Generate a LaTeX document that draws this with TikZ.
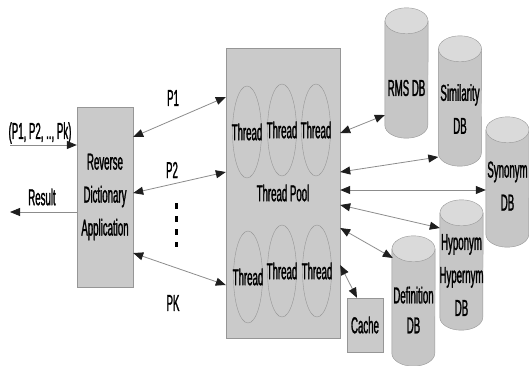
\documentclass[tikz,border=0pt]{standalone}
\usepackage{fontspec}
\setmainfont{Liberation Sans}[FakeStretch=0.42, FakeBold=1.2]
\usetikzlibrary{arrows.meta,shapes.geometric}

\definecolor{boxgray}{RGB}{202,202,202}
\definecolor{edgegray}{RGB}{150,150,150}
\definecolor{dbbody}{RGB}{198,198,198}
\definecolor{dbtop}{RGB}{218,218,218}
\definecolor{linegray}{RGB}{140,140,140}
\definecolor{headgray}{RGB}{30,30,30}

% cylinder drawn round a named (empty) node
\newcommand\drawdb[1]{%
  \filldraw[fill=dbbody, draw=edgegray]
    ([yshift=-13pt]#1.north west) -- ([yshift=13pt]#1.south west)
    arc[start angle=180, end angle=360, x radius=21.5pt, y radius=13pt]
    -- ([yshift=-13pt]#1.north east) -- cycle;
  \filldraw[fill=dbtop, draw=edgegray] ([yshift=-13pt]#1.north)
    ellipse[x radius=21.5pt, y radius=13pt];}

\begin{document}
\begin{tikzpicture}[x=1pt,y=-1pt,
    every node/.style={font=\fontsize{23}{33}\selectfont, inner sep=0pt},
    >={Triangle[length=10pt,width=8pt,color=headgray]},
    link/.style={<->, draw=linegray, line width=0.8pt},
    oneway/.style={->, draw=linegray, line width=0.8pt},
    grayblock/.style={draw=edgegray, fill=boxgray, align=center},
    thread/.style={ellipse, draw=edgegray, minimum width=29pt, minimum height=92pt, label=center:Thread},
    db/.style={minimum width=43pt, minimum height=130pt},
    dblabel/.style={align=center}]
  \useasboundingbox (0,0) rectangle (529,365);

  % Application and thread pool
  \node[grayblock, minimum width=56pt, minimum height=180pt] (app) at (105,197)
    {Reverse\\Dictionary\\Application};
  \node[grayblock, minimum width=114pt, minimum height=290pt] (pool) at (283,193) {Thread Pool};

  % Threads
  \node[thread] (t1) at (247,132) {};
  \node[thread] (t2) at (282,130) {};
  \node[thread] (t3) at (316,130) {};
  \node[thread] (t4) at (248,277) {};
  \node[thread] (t5) at (282,271) {};
  \node[thread] (t6) at (317,271) {};

  % Databases and cache
  \node[db] (rms) at (406.5,73) {};
  \node[db] (sim) at (460,101) {};
  \node[db] (syn) at (507.5,182) {};
  \node[db] (hyp) at (461.5,265) {};
  \node[db] (def) at (413.5,301) {};
  \foreach \d in {rms,sim,syn,hyp,def} {\drawdb{\d}}
  \node[dblabel, yshift=-15pt] at (rms) {RMS DB};
  \node[dblabel, yshift=-8pt] at (sim) {Similarity\\DB};
  \node[dblabel, yshift=-4pt] at (syn) {Synonym\\DB};
  \node[dblabel, yshift=-10pt] at (hyp) {Hyponym\\Hypernym\\DB};
  \node[dblabel, yshift=-9pt, font=\fontsize{23}{30}\selectfont] at (def) {Definition\\DB};
  \node[grayblock, minimum width=36pt, minimum height=54pt] (cache) at (365,325) {Cache};

  % Input and result
  \coordinate (in) at (10,145);
  \coordinate (out) at (10,212);
  \node (inlbl) at (40,133) {(P1, P2, .., Pk)};
  \node (reslbl) at (42,197) {Result};
  \draw[oneway] (in) -- ([yshift=52pt]app.west);
  \draw[oneway] ([yshift=-15pt]app.west) -- (out);

  % Requests to the pool
  \draw[link] ([yshift=60pt]app.east) -- ([yshift=96pt]pool.west);
  \draw[link] ([yshift=4pt]app.east) -- ([yshift=21pt]pool.west);
  \draw[link] ([yshift=-56pt]app.east) -- ([yshift=-92pt]pool.west);
  \node (p1) at (173,98) {P1};
  \node (p2) at (172,170) {P2};
  \node (pk) at (173,303) {PK};
  \draw[line width=3pt, dash pattern=on 6pt off 7pt] (176,203) -- (176,247);

  % Pool to databases
  \draw[link] ([yshift=60pt]pool.east) -- ([yshift=-42pt]rms.west);
  \draw[link] ([yshift=21pt]pool.east) -- ([yshift=-56pt]sim.west);
  \draw[link] ([yshift=3pt]pool.east) -- ([yshift=-8pt]syn.west);
  \draw[link] ([yshift=-12pt]pool.east) -- ([yshift=37pt]hyp.west);
  \draw[link] ([yshift=-35pt]pool.east) -- ([xshift=1pt,yshift=43pt]def.west);
  \draw[link] ([yshift=-72pt]pool.east) -- ([xshift=-8pt]cache.north);
\end{tikzpicture}
\end{document}
